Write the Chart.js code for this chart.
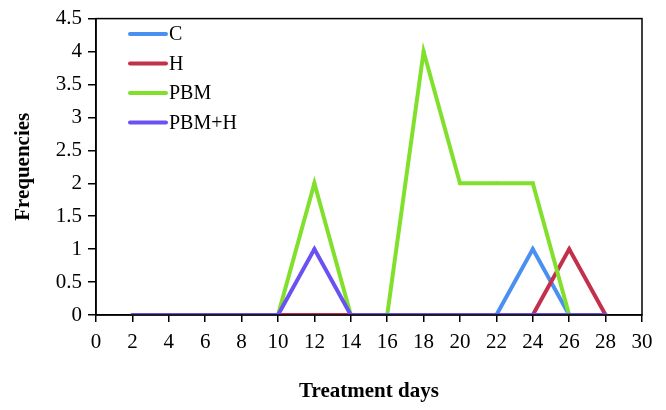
<!DOCTYPE html>
<html>
<head>
<meta charset="utf-8">
<script src="https://cdn.jsdelivr.net/npm/chart.js@4"></script>
<style>
  html, body { margin: 0; padding: 0; background: #fff; }
  #wrap { width: 666px; height: 410px; }
</style>
</head>
<body>
<div id="wrap"><canvas id="chart" width="666" height="410"></canvas></div>
<script>
const days = [2, 4, 6, 8, 10, 12, 14, 16, 18, 20, 22, 24, 26, 28];
const seriesNames = ['C', 'H', 'PBM', 'PBM+H'];
const seriesColors = ['#4a90f0', '#c2304c', '#80e02c', '#6a52f2'];
const cValues    = [0, 0, 0, 0, 0, 0, 0, 0, 0, 0, 0, 1, 0, 0];
const hValues    = [0, 0, 0, 0, 0, 0, 0, 0, 0, 0, 0, 0, 1, 0];
const pbmValues  = [0, 0, 0, 0, 0, 2, 0, 0, 4, 2, 2, 2, 0, 0];
const pbmhValues = [0, 0, 0, 0, 0, 1, 0, 0, 0, 0, 0, 0, 0, 0];
const allValues = [cValues, hValues, pbmValues, pbmhValues];

const serif = "'Liberation Serif', 'DejaVu Serif', serif";

// box around the plot + legend drawn inside the plot area
const frameAndLegend = {
    id: 'frameAndLegend',
    afterDraw(chart) {
        const {ctx, chartArea: a} = chart;
        ctx.save();
        ctx.strokeStyle = '#000';
        ctx.lineWidth = 1.5;
        ctx.strokeRect(a.left, a.top, a.right - a.left, a.bottom - a.top);

        ctx.font = '20px ' + serif;
        ctx.textBaseline = 'middle';
        ctx.fillStyle = '#000';
        seriesNames.forEach((name, i) => {
            const y = 34 + i * 29.5;
            ctx.strokeStyle = seriesColors[i];
            ctx.lineWidth = 4;
            ctx.lineCap = 'round';
            ctx.beginPath();
            ctx.moveTo(130, y);
            ctx.lineTo(166, y);
            ctx.stroke();
            ctx.fillText(name, 169, y + 1);
        });
        ctx.restore();
    }
};

new Chart(document.getElementById('chart'), {
    type: 'line',
    data: {
        datasets: seriesNames.map((name, i) => ({
            label: name,
            data: days.map((d, j) => ({x: d, y: allValues[i][j]})),
            borderColor: seriesColors[i],
            backgroundColor: seriesColors[i],
            borderWidth: 4,
            pointRadius: 2,
            pointBorderWidth: 0,
            tension: 0,
            order: 4 - i
        }))
    },
    options: {
        responsive: false,
        animation: false,
        layout: { padding: { top: 17, right: 24, left: 0, bottom: 0 } },
        plugins: {
            legend: { display: false },
            tooltip: { enabled: false }
        },
        scales: {
            x: {
                type: 'linear',
                min: 0,
                max: 30,
                afterFit: (scale) => { scale.height = 95; },
                ticks: {
                    stepSize: 2,
                    color: '#000',
                    font: { family: serif, size: 21 },
                    padding: 8,
                    maxRotation: 0,
                    callback: (v) => String(v)
                },
                grid: { drawOnChartArea: false, color: '#000', tickLength: 7, lineWidth: 1.5 },
                border: { color: '#000', width: 1.5 },
                title: {
                    display: true,
                    text: 'Treatment days',
                    color: '#000',
                    font: { family: serif, size: 21, weight: 'bold' },
                    padding: { bottom: 6 }
                }
            },
            y: {
                min: 0,
                max: 4.5,
                afterFit: (scale) => { scale.width = 96; },
                ticks: {
                    stepSize: 0.5,
                    color: '#000',
                    font: { family: serif, size: 21 },
                    padding: 6,
                    callback: (v) => String(v)
                },
                grid: { drawOnChartArea: false, color: '#000', tickLength: 8, lineWidth: 1.5 },
                border: { color: '#000', width: 1.5 },
                title: {
                    display: true,
                    text: 'Frequencies',
                    color: '#000',
                    font: { family: serif, size: 21, weight: 'bold' },
                    padding: { top: 11 }
                }
            }
        }
    },
    plugins: [frameAndLegend]
});
</script>
</body>
</html>
